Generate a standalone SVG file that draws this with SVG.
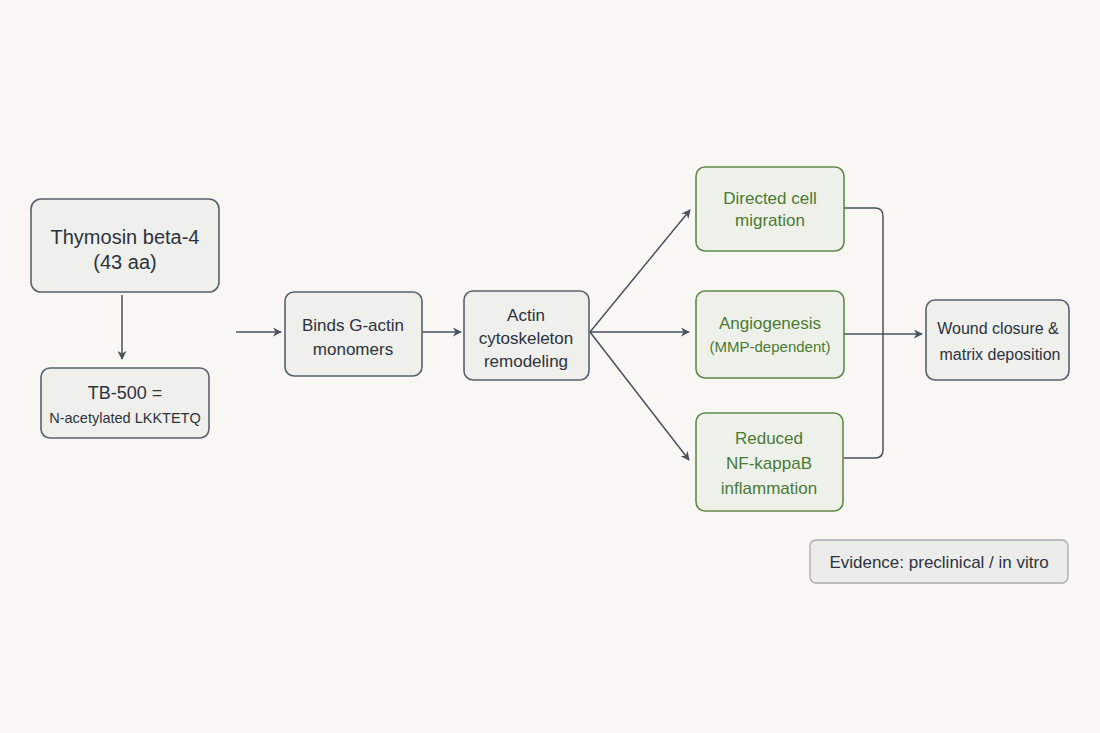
<svg xmlns="http://www.w3.org/2000/svg" width="1100" height="733" viewBox="0 0 1100 733">
<defs>
<marker id="ah" viewBox="0 0 10 10" refX="9" refY="5" markerWidth="9" markerHeight="9" markerUnits="userSpaceOnUse" orient="auto"><path d="M0,0 L10,5 L0,10 L3,5 Z" fill="#4a525e"/></marker>
<style>
text{font-family:"Liberation Sans",Arial,sans-serif;text-anchor:middle;fill:#2c333d}
.n{fill:#efefec;stroke:#59616d;stroke-width:1.6}
.g{fill:#eef1e9;stroke:#5e8a48;stroke-width:1.6}
.gt{fill:#4a7a34}
.e{stroke:#4a525e;stroke-width:1.5;fill:none}
</style>
</defs>
<rect width="1100" height="733" fill="#f8f7f3"/>
<g id="connectors">
<line class="e" x1="122" y1="295" x2="122" y2="359" marker-end="url(#ah)"/>
<line class="e" x1="236" y1="332" x2="281" y2="332" marker-end="url(#ah)"/>
<line class="e" x1="422" y1="332" x2="461" y2="332" marker-end="url(#ah)"/>
<line class="e" x1="590" y1="332" x2="690" y2="210" marker-end="url(#ah)"/>
<line class="e" x1="590" y1="332" x2="689" y2="332" marker-end="url(#ah)"/>
<line class="e" x1="590" y1="332" x2="689" y2="460" marker-end="url(#ah)"/>
<path class="e" d="M844,208 H875 Q883,208 883,216 V450 Q883,458 875,458 H844"/>
<line class="e" x1="844" y1="334" x2="922" y2="334" marker-end="url(#ah)"/>
</g>
<g id="thymosin">
<rect class="n" x="31" y="199" width="188" height="93" rx="10"/>
<text x="125" y="244" font-size="20">Thymosin beta-4</text>
<text x="125" y="269" font-size="20">(43 aa)</text>
</g>
<g id="tb500">
<rect class="n" x="41" y="368" width="168" height="70" rx="9"/>
<text x="125" y="399" font-size="18">TB-500 =</text>
<text x="125" y="423" font-size="14.5">N-acetylated LKKTETQ</text>
</g>
<g id="binds">
<rect class="n" x="285" y="292" width="137" height="84" rx="9"/>
<text x="353" y="331" font-size="17">Binds G-actin</text>
<text x="353" y="355" font-size="17">monomers</text>
</g>
<g id="actin">
<rect class="n" x="464" y="291" width="125" height="89" rx="9"/>
<text x="526" y="321" font-size="17">Actin</text>
<text x="526" y="344" font-size="17">cytoskeleton</text>
<text x="526" y="367" font-size="17">remodeling</text>
</g>
<g id="migration">
<rect class="g" x="696" y="167" width="148" height="84" rx="9"/>
<text class="gt" x="770" y="204" font-size="17">Directed cell</text>
<text class="gt" x="770" y="226" font-size="17">migration</text>
</g>
<g id="angiogenesis">
<rect class="g" x="696" y="291" width="148" height="87" rx="9"/>
<text class="gt" x="770" y="329" font-size="17">Angiogenesis</text>
<text class="gt" x="770" y="352" font-size="15">(MMP-dependent)</text>
</g>
<g id="inflammation">
<rect class="g" x="696" y="413" width="147" height="98" rx="9"/>
<text class="gt" x="769" y="444" font-size="17">Reduced</text>
<text class="gt" x="769" y="469" font-size="17">NF-kappaB</text>
<text class="gt" x="769" y="494" font-size="17">inflammation</text>
</g>
<g id="wound">
<rect class="n" x="926" y="300" width="143" height="80" rx="9"/>
<text x="998" y="334" font-size="16">Wound closure &amp;</text>
<text x="1000" y="360" font-size="16">matrix deposition</text>
</g>
<g id="evidence">
<rect x="810" y="540" width="258" height="43" rx="6" fill="#ececea" stroke="#a9abad" stroke-width="1.3"/>
<text x="939" y="568" font-size="17" fill="#3a4048">Evidence: preclinical / in vitro</text>
</g>
</svg>
